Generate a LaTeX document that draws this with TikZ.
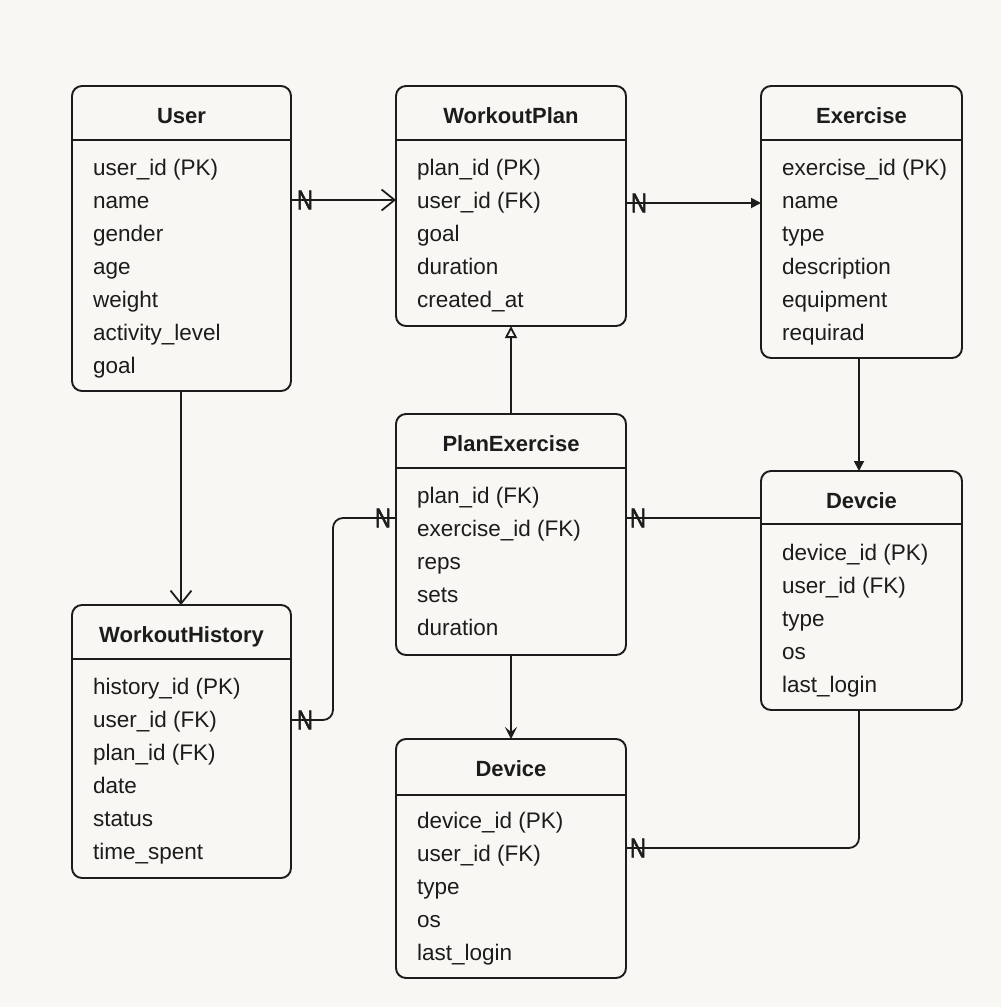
\documentclass[tikz,border=0pt]{standalone}
\usepackage{fontspec}
\setmainfont{Liberation Sans}
\usetikzlibrary{calc,arrows.meta}

\definecolor{paper}{HTML}{F8F7F4}
\definecolor{ink}{HTML}{1C1C1C}

\tikzset{
  entity/.style={draw=ink, line width=1.9pt, rounded corners=10pt,
    inner sep=0pt, outer sep=0pt},
  headline/.style={draw=ink, line width=1.9pt},
  etitle/.style={font=\fontsize{22}{26}\selectfont\bfseries, text=ink,
    inner sep=0pt},
  field/.style={font=\fontsize{22.5}{26}\selectfont, text=ink, inner sep=0pt},
  conn/.style={draw=ink, line width=1.8pt},
  cardn/.style={font=\fontsize{27}{27}\selectfont, text=ink, inner sep=0pt},
  barb/.tip={Straight Barb[length=13pt,width=21pt,line width=1.8pt]},
  solidtip/.tip={Triangle[length=10pt,width=10pt]},
  hollowtip/.tip={Triangle[open,length=12pt,width=12pt,line width=1.8pt]},
  narrowtip/.tip={Stealth[length=12pt,width=12pt,inset=5pt]},
}

% entity box: name, centre, width, height, header offset, title, fields
\newcommand\erentity[7]{%
  \node[entity, minimum width=#3, minimum height=#4] (#1) at (#2) {};
  \draw[headline] ($(#1.north west)+(0,#5)$) -- ($(#1.north east)+(0,#5)$);
  \node[etitle, anchor=base] (#1-title) at ($(#1.north)+(0,37)$) {#6};
  \foreach \t [count=\i] in {#7}
    \node[field, anchor=base west] (#1-f\i)
      at ($(#1.north west)+(21,{89+33*(\i-1)})$) {\t};
}

% cardinality mark, a slightly condensed, filled and stroked N
\newcommand\cardN{\scalebox{0.82}[1]{\special{pdf:literal 2 Tr 0.6 w}N\special{pdf:literal 0 Tr}}}

\begin{document}
\begin{tikzpicture}[x=1pt,y=-1pt]
  \fill[paper] (0,0) rectangle (1001,1007);
  \useasboundingbox (0,0) rectangle (1001,1007);

  \erentity{user}{181.5,238.5}{219pt}{305pt}{54}{User}
    {user\_id (PK),name,gender,age,weight,activity\_level,goal}
  \erentity{wplan}{511,206}{230pt}{240pt}{54}{WorkoutPlan}
    {plan\_id (PK),user\_id (FK),goal,duration,created\_at}
  \erentity{exer}{861.5,222}{201pt}{272pt}{54}{Exercise}
    {exercise\_id (PK),name,type,description,equipment,requirad}
  \erentity{pexer}{511,534.5}{230pt}{241pt}{54}{PlanExercise}
    {plan\_id (FK),exercise\_id (FK),reps,sets,duration}
  \erentity{devcie}{861.5,590.5}{201pt}{239pt}{53}{Devcie}
    {device\_id (PK),user\_id (FK),type,os,last\_login}
  \erentity{whist}{181.5,741.5}{219pt}{273pt}{54}{WorkoutHistory}
    {history\_id (PK),user\_id (FK),plan\_id (FK),date,status,time\_spent}
  \erentity{device}{511,858.5}{230pt}{239pt}{56}{Device}
    {device\_id (PK),user\_id (FK),type,os,last\_login}

  % User -> WorkoutPlan
  \draw[conn, -barb] ($(user.north east)+(0,114)$) -- ($(wplan.north west)+(0,114)$);
  \node[cardn] (n-uw) at ($(user.north east)+(14,114)$) {\cardN};

  % WorkoutPlan -> Exercise
  \draw[conn, -solidtip] ($(wplan.north east)+(0,117)$) -- ($(exer.north west)+(0,117)$);
  \node[cardn] (n-we) at ($(wplan.north east)+(13,117)$) {\cardN};

  % PlanExercise -> WorkoutPlan
  \draw[conn, -hollowtip] (pexer.north) -- (wplan.south);

  % User -> WorkoutHistory
  \draw[conn, -barb] ($(user.south)+(-0.5,0)$) -- ($(whist.north)+(-0.5,0)$);

  % Exercise -> Devcie
  \draw[conn, -solidtip] ($(exer.south west)+(98,0)$) -- ($(devcie.north west)+(98,0)$);

  % PlanExercise -> Device
  \draw[conn, -narrowtip] (pexer.south) -- (device.north);

  % WorkoutHistory -- PlanExercise
  \draw[conn, rounded corners=10pt] ($(whist.north east)+(0,115)$) -- ++(42,0)
    |- ($(pexer.north west)+(0,104)$);
  \node[cardn] (n-wh) at ($(whist.north east)+(14,115)$) {\cardN};
  \node[cardn] (n-pw) at ($(pexer.north west)+(-13,104)$) {\cardN};

  % PlanExercise -- Devcie
  \draw[conn] ($(pexer.north east)+(0,104)$) -- ($(devcie.north west)+(0,47)$);
  \node[cardn] (n-pd) at ($(pexer.north east)+(12,104)$) {\cardN};

  % Devcie -- Device
  \draw[conn, rounded corners=10pt] ($(devcie.south west)+(98,0)$)
    |- ($(device.north east)+(0,109)$);
  \node[cardn] (n-dd) at ($(device.north east)+(12,109)$) {\cardN};
\end{tikzpicture}
\end{document}
